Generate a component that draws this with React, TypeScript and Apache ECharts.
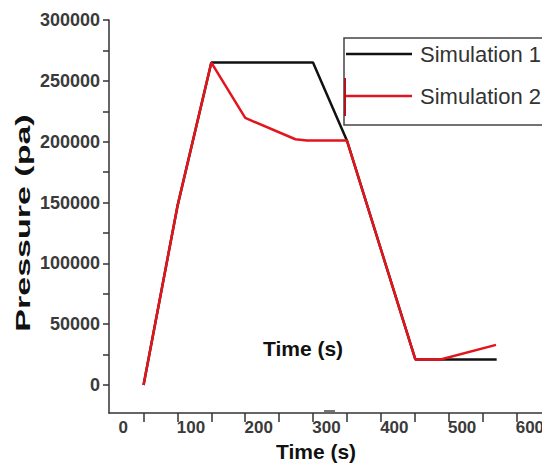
import React, { useEffect, useRef } from 'react';
import * as echarts from 'echarts';

const timeSim1 = [30, 80, 130, 280, 330, 431, 551];
const pressureSim1 = [0, 147000, 265000, 265000, 201000, 21000, 21000];
const timeSim2 = [30, 80, 130, 180, 254, 271, 330, 431, 468, 550];
const pressureSim2 = [0, 147000, 265000, 219500, 202000, 201000, 201000, 21000, 21000, 33000];

const xLabelValues = [0, 100, 200, 300, 400, 500, 600];
const xTickValues = [30, 80, 130, 180, 230, 280, 330, 380, 430, 480, 530, 580];
const yLabelValues = [0, 50000, 100000, 150000, 200000, 250000, 300000];
const yTickValues = [0, 25000, 50000, 75000, 100000, 125000, 150000, 175000, 200000, 225000, 250000, 275000, 300000];

const seriesNames = ['Simulation 1', 'Simulation 2'];
const FONT = '"Liberation Sans", Arial, Helvetica, sans-serif';

export default function App() {
  const ref = useRef<HTMLDivElement>(null);
  useEffect(() => {
    document.body.style.margin = '0';
    if (!ref.current) return;
    const chart = echarts.init(ref.current, undefined, { renderer: 'svg' });
    const option: any = {
      animation: false,
      backgroundColor: '#ffffff',
      grid: { left: 109, top: 20, width: 448, height: 393, containLabel: false, outerBoundsMode: 'none' },
      xAxis: {
        type: 'value',
        min: -21,
        max: 640,
        axisLine: { show: true, onZero: false, lineStyle: { color: '#333', width: 1.5 } },
        axisTick: { show: true, length: 9, customValues: xTickValues, lineStyle: { color: '#333', width: 1.5 } },
        axisLabel: {
          customValues: xLabelValues,
          margin: 6,
          fontSize: 17,
          fontWeight: 'bold',
          color: '#3a3a3a',
          fontFamily: FONT,
          formatter: (v: number) => String(v),
        },
        splitLine: { show: false },
      },
      yAxis: {
        type: 'value',
        min: -23000,
        max: 300000,
        axisLine: { show: true, onZero: false, lineStyle: { color: '#333', width: 1.5 } },
        axisTick: { show: true, length: 6, customValues: yTickValues, lineStyle: { color: '#333', width: 1.5 } },
        axisLabel: {
          customValues: yLabelValues,
          margin: 9,
          fontSize: 18,
          fontWeight: 'bold',
          color: '#3a3a3a',
          fontFamily: FONT,
          formatter: (v: number) => String(v),
        },
        splitLine: { show: false },
      },
      legend: {
        data: seriesNames,
        orient: 'vertical',
        left: 344,
        top: 38,
        padding: [4, 70, 17, 2],
        icon: 'rect',
        itemWidth: 66,
        itemHeight: 2.5,
        itemGap: 18,
        borderColor: '#444',
        borderWidth: 1.5,
        backgroundColor: '#ffffff',
        textStyle: { fontSize: 22, color: '#333', fontFamily: FONT, lineHeight: 24, padding: [0, 0, 0, 3] },
      },
      series: [
        {
          name: seriesNames[0],
          type: 'line',
          symbol: 'none',
          data: timeSim1.map((t, i) => [t, pressureSim1[i]]),
          lineStyle: { color: '#111111', width: 2.5 },
          itemStyle: { color: '#111111' },
          z: 2,
        },
        {
          name: seriesNames[1],
          type: 'line',
          symbol: 'none',
          data: timeSim2.map((t, i) => [t, pressureSim2[i]]),
          lineStyle: { color: '#e3151c', width: 2.5 },
          itemStyle: { color: '#e3151c' },
          z: 3,
        },
      ],
      graphic: [
        {
          type: 'text',
          x: 23,
          y: 223,
          rotation: Math.PI / 2,
          scaleX: 1.62,
          z: 100,
          style: {
            text: 'Pressure (pa)',
            fontSize: 21,
            fontWeight: 'bold',
            fontFamily: FONT,
            fill: '#111',
            align: 'center',
            verticalAlign: 'middle',
            textAlign: 'center',
            textVerticalAlign: 'middle',
          },
        },
        {
          type: 'text',
          x: 303,
          y: 348,
          z: 100,
          style: {
            text: 'Time (s)',
            fontSize: 21,
            fontWeight: 'bold',
            fontFamily: FONT,
            fill: '#111',
            align: 'center',
            verticalAlign: 'middle',
            textAlign: 'center',
            textVerticalAlign: 'middle',
          },
        },
        {
          type: 'text',
          x: 316,
          y: 451,
          z: 100,
          style: {
            text: 'Time (s)',
            fontSize: 21,
            fontWeight: 'bold',
            fontFamily: FONT,
            fill: '#111',
            align: 'center',
            verticalAlign: 'middle',
            textAlign: 'center',
            textVerticalAlign: 'middle',
          },
        },
        {
          type: 'line',
          z: 100,
          shape: { x1: 324, y1: 411, x2: 335, y2: 411 },
          style: { stroke: '#444', lineWidth: 1.5 },
        },
        {
          type: 'line',
          z: 100,
          shape: { x1: 345, y1: 78, x2: 345, y2: 116 },
          style: { stroke: '#b8101a', lineWidth: 2 },
        },
      ],
    };
    chart.setOption(option);
    return () => chart.dispose();
  }, []);
  return <div ref={ref} style={{ position: 'fixed', left: 0, top: 0, width: 542, height: 464 }} />;
}
